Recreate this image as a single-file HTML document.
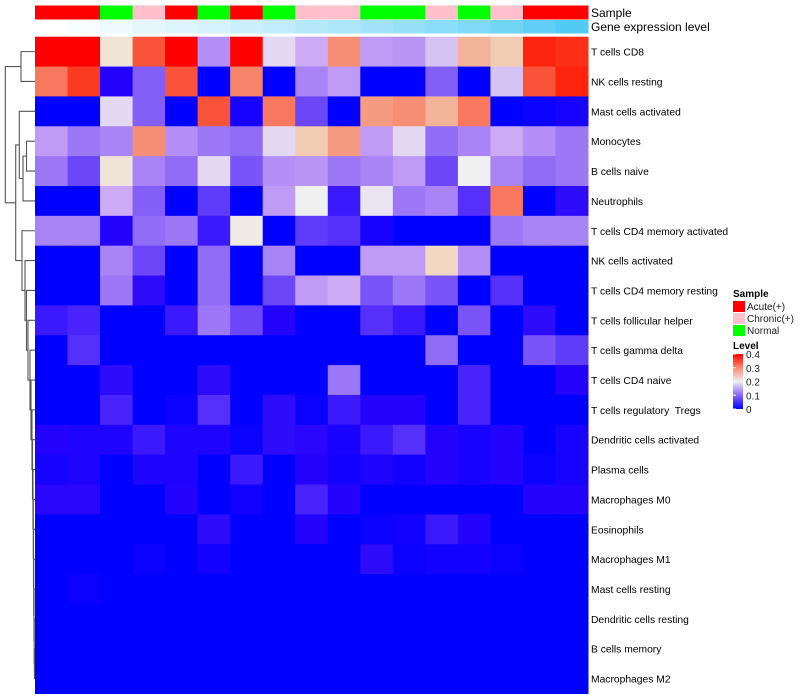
<!DOCTYPE html>
<html><head><meta charset="utf-8"><style>
body{margin:0;background:#fff;}
svg{display:block;font-family:"Liberation Sans",sans-serif;}
text{white-space:pre;}
</style></head><body>
<svg id="chart" width="800" height="700" xmlns="http://www.w3.org/2000/svg"></svg>
<script>
const rowNames=["T cells CD8","NK cells resting","Mast cells activated","Monocytes","B cells naive","Neutrophils","T cells CD4 memory activated","NK cells activated","T cells CD4 memory resting","T cells follicular helper","T cells gamma delta","T cells CD4 naive","T cells regulatory  Tregs","Dendritic cells activated","Plasma cells","Macrophages M0","Eosinophils","Macrophages M1","Mast cells resting","Dendritic cells resting","B cells memory","Macrophages M2"];
const sampleGroups=["Acute(+)","Acute(+)","Normal","Chronic(+)","Acute(+)","Normal","Acute(+)","Normal","Chronic(+)","Chronic(+)","Normal","Normal","Chronic(+)","Normal","Chronic(+)","Acute(+)","Acute(+)"];
const geneLevels=[0,0.04,0.09,0.14,0.17,0.22,0.28,0.33,0.40,0.44,0.50,0.56,0.63,0.69,0.76,0.86,0.95];
const values=[
[0.4,0.4,0.21,0.33,0.4,0.15,0.4,0.19,0.17,0.28,0.16,0.155,0.18,0.25,0.23,0.37,0.36],
[0.3,0.35,0.03,0.11,0.33,0,0.29,0,0.14,0.16,0,0,0.11,0,0.18,0.33,0.37],
[0,0,0.19,0.11,0,0.33,0.02,0.3,0.09,0,0.27,0.28,0.25,0.3,0,0.01,0.02],
[0.16,0.13,0.14,0.28,0.15,0.13,0.12,0.19,0.23,0.27,0.16,0.19,0.12,0.14,0.17,0.15,0.13],
[0.13,0.09,0.21,0.14,0.12,0.19,0.1,0.15,0.155,0.13,0.14,0.16,0.09,0.2,0.14,0.12,0.13],
[0,0,0.17,0.11,0,0.08,0,0.16,0.2,0.05,0.195,0.13,0.14,0.07,0.3,0,0.04],
[0.14,0.14,0.03,0.12,0.13,0.05,0.205,0,0.08,0.07,0.02,0,0,0,0.13,0.14,0.14],
[0,0,0.14,0.09,0,0.12,0,0.14,0,0,0.16,0.16,0.22,0.15,0,0,0],
[0,0,0.13,0.04,0,0.12,0,0.09,0.16,0.17,0.1,0.13,0.1,0,0.07,0,0],
[0.05,0.06,0,0,0.05,0.13,0.09,0.03,0,0,0.07,0.05,0,0.1,0,0.04,0],
[0,0.07,0,0,0,0,0,0,0,0,0,0,0.12,0,0,0.1,0.08],
[0,0,0.04,0,0,0.04,0,0,0,0.13,0,0,0,0.06,0,0,0.03],
[0,0,0.06,0,0.01,0.07,0,0.04,0.01,0.05,0.03,0.03,0,0.06,0,0,0],
[0.03,0.025,0.025,0.05,0.025,0.025,0.01,0.04,0.035,0.02,0.05,0.07,0.03,0.02,0.03,0,0.02],
[0.02,0.025,0,0.025,0.025,0,0.05,0,0.03,0.015,0.025,0.015,0.03,0.02,0.03,0.01,0.02],
[0.035,0.035,0,0,0.03,0,0.015,0,0.06,0.03,0,0,0,0,0,0.03,0.03],
[0,0,0,0,0,0.04,0,0,0.03,0,0.01,0.015,0.05,0.03,0,0,0],
[0,0,0,0.01,0,0.015,0,0,0,0,0.04,0.01,0.015,0.015,0.01,0,0],
[0,0.01,0,0,0,0,0,0,0,0,0,0,0,0,0,0,0],
[0,0,0,0,0,0,0,0,0,0,0,0,0,0,0,0,0],
[0,0,0,0,0,0,0,0,0,0,0,0,0,0,0,0,0],
[0,0,0,0,0,0,0,0,0,0,0,0,0,0,0,0,0]];
const levelTicks=[0,0.1,0.2,0.3,0.4];
const groupColors={"Acute(+)":"#FF0000","Chronic(+)":"#FFC0CB","Normal":"#00FF00"};

const svg=document.getElementById('chart');
const NS="http://www.w3.org/2000/svg";
function mk(t,a){const e=document.createElementNS(NS,t);for(const k in a)e.setAttribute(k,a[k]);svg.appendChild(e);return e;}
const X0=35,X1=588,Y0=36.7,Y1=693.5;
const nC=sampleGroups.length,nR=rowNames.length;
const cw=(X1-X0)/nC,rh=(Y1-Y0)/nR;
const xPos=i=>X0+i*cw, yPos=j=>Y0+j*rh;
function colorOf(v){
  const t=Math.max(0,Math.min(1,v/0.4));
  let r,g,b;
  if(t<0.5){
    const s=t/0.5;r=240*s;
    const d=36*Math.min(1,(240-r)/40)*Math.min(1,r/40);
    g=Math.max(0,r-d);b=255-12*s;
  } else {
    const s=(t-0.5)/0.5;r=240+15*s;
    g=240*(1-s);
    const d=26*Math.min(1,g/40)*Math.min(1,(240-g)/30);
    b=Math.max(0,g-d);
  }
  return `rgb(${r|0},${g|0},${b|0})`;
}
sampleGroups.forEach((g,i)=>{
  const e=mk('rect',{x:xPos(i),y:5.5,width:cw+0.5,height:14,fill:groupColors[g]});
  
  
});
geneLevels.forEach((v,i)=>{
  const r=255+(72-255)*v,g=255+(200-255)*v,b=255+(244-255)*v;
  const e=mk('rect',{x:xPos(i),y:20,width:cw+0.5,height:13.5,fill:`rgb(${r|0},${g|0},${b|0})`});
  
  
});
let t=mk('text',{x:591,y:17,'font-size':12,fill:'#000'});t.textContent='Sample';

t=mk('text',{x:591,y:31,'font-size':12,fill:'#000'});t.textContent='Gene expression level';

values.forEach((row,j)=>row.forEach((v,i)=>{
  const e=mk('rect',{x:xPos(i),y:yPos(j),width:cw+0.5,height:rh+0.5,fill:colorOf(v)});
  
  
}));
rowNames.forEach((n,j)=>{
  const e=mk('text',{x:591,y:yPos(j)+rh/2+4,'font-size':10.3,fill:'#000'});
  e.textContent=n;
  
  
});
const yc=j=>yPos(j)+rh/2;
function node(a,b,x){return {y:(a.y+b.y)/2,x:x,a:a,b:b};}
const leaf=j=>({y:yc(j),x:X0,leaf:true});
function draw(n){
  if(n.leaf)return;
  const p=`M${n.a.x},${n.a.y}H${n.x}V${n.b.y}H${n.b.x}`;
  const e=mk('path',{d:p,fill:'none',stroke:'#555','stroke-width':1.1});
  
  
  draw(n.a);draw(n.b);
}
const A=node(leaf(0),leaf(1),21);
const E=node(leaf(3),leaf(4),26.5);
const F=node(E,leaf(5),23);
const G=node(leaf(2),F,19.3);
const hx=[22,25,26.5,28,30,31,32,32.5,33,33.3,33.5,33.7,34,34.2,34.4];
let H=node(leaf(20),leaf(21),hx[14]);
for(let k=19;k>=6;k--)H=node(leaf(k),H,hx[k-6]);
const D=node(G,H,15.7);
const root=node(A,D,5.3);
draw(root);
t=mk('text',{x:733,y:297,'font-size':10,'font-weight':'bold'});t.textContent='Sample';

["Acute(+)","Chronic(+)","Normal"].forEach((g,i)=>{
  const r=mk('rect',{x:733,y:301+i*12,width:12,height:11,fill:groupColors[g]});
  
  const tx=mk('text',{x:747,y:310+i*12,'font-size':10,fill:'#222'});tx.textContent=g;
  
});
t=mk('text',{x:733,y:349,'font-size':10,'font-weight':'bold'});t.textContent='Level';

const defs=mk('defs',{});
const lg=document.createElementNS(NS,'linearGradient');
lg.setAttribute('id','lvl');lg.setAttribute('x1','0');lg.setAttribute('y1','1');lg.setAttribute('x2','0');lg.setAttribute('y2','0');
[[0,'#0000FF'],[0.25,'#8A64F8'],[0.5,'#F0EEF0'],[0.75,'#FF8A70'],[1,'#FF0000']].forEach(s=>{const st=document.createElementNS(NS,'stop');st.setAttribute('offset',s[0]);st.setAttribute('stop-color',s[1]);lg.appendChild(st);});
defs.appendChild(lg);
const cbTop=354,cbBot=409;
const cb=mk('rect',{x:733,y:cbTop,width:10,height:cbBot-cbTop,fill:'url(#lvl)'});

levelTicks.forEach(v=>{
  const y=cbBot-(v/0.4)*(cbBot-cbTop);
  const l=mk('line',{x1:733,x2:736,y1:y,y2:y,stroke:'#fff','stroke-width':1});
  
  const tx=mk('text',{x:746,y:y+4,'font-size':10,fill:'#222'});tx.textContent=String(v);
  
});
</script>
</body></html>
